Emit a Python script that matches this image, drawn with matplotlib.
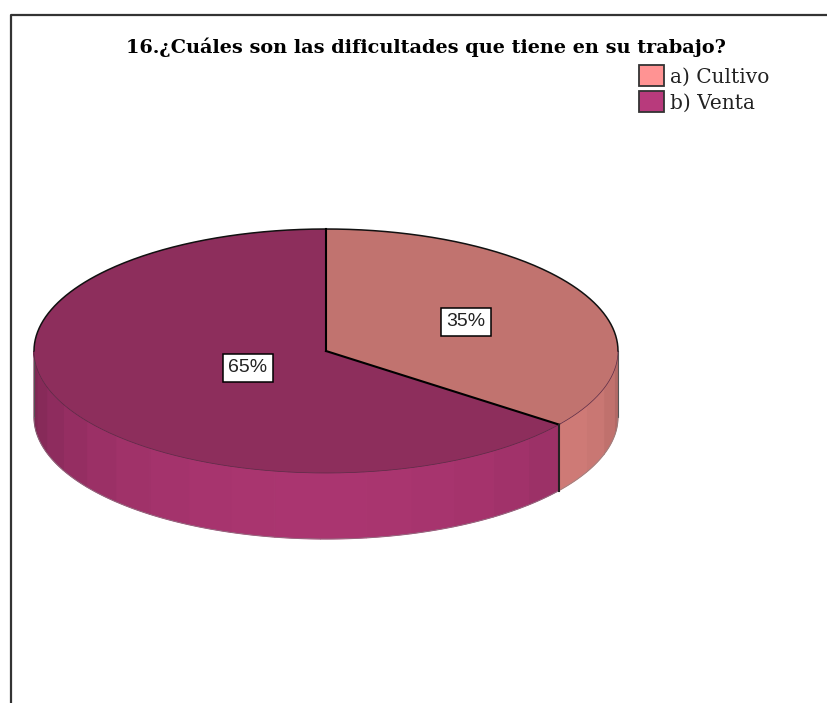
import numpy as np
import matplotlib
matplotlib.use('Agg')
import matplotlib.pyplot as plt
from matplotlib.patches import Polygon, Rectangle

#Data
labels = ['a) Cultivo', 'b) Venta']
shares = [35.3, 64.7]
title = '16.¿Cuáles son las dificultades que tiene en su trabajo?'

#Colours: legend, top face, and side face
legend_colors = ['#ff9393', '#b83a7c']
top_colors = ['#c1736f', '#8d2e5c']
side_colors = ['#cf7a76', '#aa3570']
side_dark = [0.18, 0.28]

#Pie geometry in image pixels
cx, cy, rx, ry, depth = 326, 351, 292, 122, 66

def rim(a0, a1, n=200):
    # angles clockwise from 12 o'clock
    a = np.radians(np.linspace(a0, a1, n))
    return np.column_stack([cx + rx*np.sin(a), cy - ry*np.cos(a)])

fig = plt.figure(figsize=(8.27, 7.03), dpi=100)
ax = fig.add_axes([0, 0, 1, 1])
ax.set_xlim(0, 827)
ax.set_ylim(703, 0)
ax.axis('off')

#Side wall, drawn in bands that darken towards the edges
angles = np.cumsum([0] + shares) * 3.6
for i in range(2):
    a0 = max(angles[i], 90)
    a1 = min(angles[i+1], 270)
    for start in np.arange(a0, a1, 9.0):
        end = min(start + 9.0, a1)
        mid = (start + end) / 2
        if i == 0:
            # the light slice only starts to fade past its own edge
            k = 1 - side_dark[i]*((a1 - mid)/(a1 - a0))**2
        else:
            k = 1 - side_dark[i]*(abs(mid - 180)/90)**2
        col = np.array(matplotlib.colors.to_rgb(side_colors[i])) * k
        top = rim(start, end, 20)
        bot = top[::-1] + [0, depth]
        ax.add_patch(Polygon(np.vstack([top, bot]), closed=True, fc=col, ec=col, lw=0.8))

#Outer outline of the wall
ax.plot([cx-rx, cx-rx], [cy, cy+depth], color='#555555', lw=0.8)
ax.plot([cx+rx, cx+rx], [cy, cy+depth], color='#555555', lw=0.8)
low = rim(90, 270) + [0, depth]
ax.plot(low[:, 0], low[:, 1], color='#888888', lw=0.4)

#Top faces
for i in range(2):
    pts = np.vstack([[cx, cy], rim(angles[i], angles[i+1], 300)])
    ax.add_patch(Polygon(pts, closed=True, fc=top_colors[i], ec='none', zorder=3))
upper = rim(-90, 90, 300)
ax.plot(upper[:, 0], upper[:, 1], color='#111111', lw=1.1, zorder=4)
lower = rim(90, 270, 300)
ax.plot(lower[:, 0], lower[:, 1], color='#5a2a45', lw=0.5, zorder=4)
for a in angles[:2]:
    edge = rim(a, a, 1)[0]
    ax.plot([cx, edge[0]], [cy, edge[1]], color='black', lw=1.5, zorder=5)
edge = rim(angles[1], angles[1], 1)[0]
ax.plot([edge[0], edge[0]], [edge[1], edge[1]+depth], color='#222222', lw=1.5, zorder=5)

#Percent labels
label_pos = [(466, 322), (248, 368)]
for s, (x, y) in zip(shares, label_pos):
    ax.text(x, y, '%.0f%%' % s, ha='center', va='center', fontsize=14, family='Liberation Sans',
            color='#222222', zorder=6,
            bbox=dict(boxstyle='square,pad=0.3', fc='white', ec='black', lw=1.1))

#Frame, open at the bottom and right
ax.plot([10.5, 10.5, 827], [703, 14.5, 14.5], color='#333333', lw=1.6)

#Title and legend
ax.text(426, 47, title, ha='center', va='center', fontsize=13.9, fontweight='bold',
        family='DejaVu Serif', color='black')
for i, lab in enumerate(labels):
    y = 65 + i*26
    ax.add_patch(Rectangle((639, y), 24.5, 21, fc=legend_colors[i], ec='#333333', lw=1.3))
    ax.text(670, y+12, lab, ha='left', va='center', fontsize=14.5, family='DejaVu Serif',
            color='#222222')

fig.savefig('out.png', dpi=100)
